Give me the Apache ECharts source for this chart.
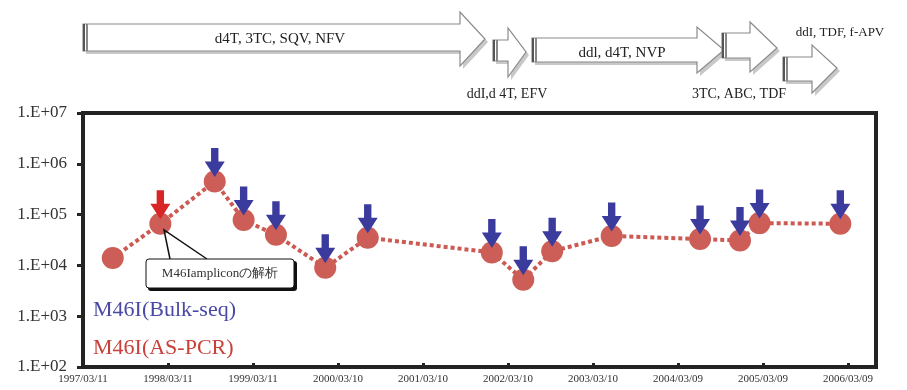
<!DOCTYPE html>
<html><head><meta charset="utf-8">
<script src="https://cdn.jsdelivr.net/npm/echarts@6/dist/echarts.min.js"></script>
<style>html,body{margin:0;padding:0;background:#fff}#c{width:907px;height:390px}</style>
</head><body><div id="c"></div>
<script>
// years elapsed since 1997/03/11
const sampleYears = [0.35, 0.91, 1.55, 1.89, 2.27, 2.85, 3.35, 4.81, 5.18, 5.52, 6.22, 7.26, 7.73, 7.96, 8.91];
// HIV RNA copies/ml (log scale)
const viralLoad = [14000, 66000, 450000, 78000, 40000, 9000, 35000, 18000, 5200, 19000, 38000, 33000, 31000, 68000, 66000];
// M46I detected by bulk sequencing (blue arrows)
const bulkSeq = [0, 0, 1, 1, 1, 1, 1, 1, 1, 1, 1, 1, 1, 1, 1];
// M46I detected by AS-PCR (red arrows)
const asPcr = [0, 1, 0, 0, 0, 0, 0, 0, 0, 0, 0, 0, 0, 0, 0];
const xTickLabels = ['1997/03/11','1998/03/11','1999/03/11','2000/03/10','2001/03/10','2002/03/10','2003/03/10','2004/03/09','2005/03/09','2006/03/09'];
const regimens = ['d4T, 3TC, SQV, NFV', 'ddI,d 4T, EFV', 'ddl, d4T, NVP', '3TC, ABC, TDF', 'ddI, TDF, f-APV'];
const legendLabels = ['M46I(Bulk-seq)', 'M46I(AS-PCR)'];
const calloutText = 'M46Iampliconの解析';

const serif = '"Liberation Serif","DejaVu Serif",serif';
const lineData = sampleYears.map((x, i) => [x, viralLoad[i]]);
const blueData = sampleYears.map((x, i) => [x, viralLoad[i]]).filter((d, i) => bulkSeq[i]);
const redData = sampleYears.map((x, i) => [x, viralLoad[i]]).filter((d, i) => asPcr[i]);
const arrowPath = 'path://M6,0 L13,0 L13,13 L19,13 L9.5,28 L0,13 L6,13 Z';

function blockArrow(x0, bt, bb, hx, ht, hb, tx, ty) {
  const pts = [[x0, bt], [hx, bt], [hx, ht], [tx, ty], [hx, hb], [hx, bb], [x0, bb]];
  return [
    { type: 'polygon', shape: { points: pts.map(p => [p[0] + 3, p[1] + 3]) }, style: { fill: '#c8c8c8', stroke: null }, z: 1 },
    { type: 'polygon', shape: { points: pts }, style: { fill: '#fff', stroke: '#8a8a8a', lineWidth: 1.2 }, z: 2 },
    { type: 'rect', shape: { x: x0, y: bt, width: 2, height: bb - bt }, style: { fill: '#555' }, z: 3 },
    { type: 'rect', shape: { x: x0 + 3, y: bt, width: 2, height: bb - bt }, style: { fill: '#888' }, z: 3 }
  ];
}
function txt(x, y, s, size, color, align) {
  return { type: 'text', x: x, y: y, z: 5, style: { text: s, font: size + 'px ' + serif, fill: color || '#222', textAlign: align || 'center', textVerticalAlign: 'middle' } };
}

const graphics = [].concat(
  blockArrow(83, 24, 51, 460, 12, 66, 485, 39),
  blockArrow(493, 40, 61, 508, 28, 77, 526, 52),
  blockArrow(532, 38, 62, 697, 27, 73, 724, 50),
  blockArrow(722, 33, 58, 750, 22, 72, 777, 48),
  blockArrow(783, 57, 81, 812, 45, 93, 837, 68),
  [
    txt(280, 39, regimens[0], 15),
    txt(507, 94, regimens[1], 14),
    txt(622, 53, regimens[2], 15),
    txt(739, 94, regimens[3], 14),
    txt(840, 33, regimens[4], 13),
    // callout
    { type: 'polyline', z: 6, shape: { points: [[170, 259], [164, 230], [207, 259]] }, style: { stroke: '#111', lineWidth: 1.5, fill: null } },
    { type: 'rect', z: 6, shape: { x: 148, y: 261, width: 149, height: 30, r: 3 }, style: { fill: '#111' } },
    { type: 'rect', z: 7, shape: { x: 146, y: 259, width: 148, height: 29, r: 3 }, style: { fill: '#fff', stroke: '#111', lineWidth: 1 } },
    { type: 'text', x: 220, y: 274, z: 8, style: { text: calloutText, font: '13px ' + serif, fill: '#333', textAlign: 'center', textVerticalAlign: 'middle' } },
    txt(93, 310, legendLabels[0], 22, '#4a4aa6', 'left'),
    txt(93, 348, legendLabels[1], 22, '#c8403a', 'left')
  ]
);

const chart = echarts.init(document.getElementById('c'));
chart.setOption({
  animation: false,
  backgroundColor: '#fff',
  grid: { left: 83, right: 31, top: 113, bottom: 23, show: true, borderColor: '#232323', borderWidth: 4 },
  xAxis: {
    type: 'value', min: 0, max: 9.33, interval: 1,
    axisLine: { lineStyle: { color: '#232323', width: 4 } },
    axisTick: { inside: true, length: 4, lineStyle: { color: '#232323', width: 3 } },
    axisLabel: { showMaxLabel: false, margin: 7, fontFamily: serif, fontSize: 11, color: '#333', formatter: v => xTickLabels[Math.round(v)] || '' },
    splitLine: { show: false }
  },
  yAxis: {
    type: 'log', logBase: 10, min: 100, max: 10000000,
    axisLine: { show: true, lineStyle: { color: '#232323', width: 4 } },
    axisTick: { show: true, length: 6, lineStyle: { color: '#232323', width: 3 } },
    axisLabel: { margin: 16, fontFamily: serif, fontSize: 17, color: '#333', formatter: v => '1.E+' + String(Math.round(Math.log10(v))).padStart(2, '0') },
    splitLine: { show: false }, minorTick: { show: false }
  },
  series: [
    { type: 'line', data: lineData, symbol: 'circle', symbolSize: 22,
      lineStyle: { color: '#cc5a52', width: 4, type: [4, 3] },
      itemStyle: { color: '#cc5e57' }, z: 3 },
    { type: 'scatter', data: blueData, symbol: arrowPath, symbolSize: [20, 29], symbolOffset: [0, -19],
      itemStyle: { color: '#3b3b9e', opacity: 1 }, z: 5 },
    { type: 'scatter', data: redData, symbol: arrowPath, symbolSize: [20, 29], symbolOffset: [0, -19],
      itemStyle: { color: '#d82626', opacity: 1 }, z: 5 }
  ],
  graphic: graphics
});
</script></body></html>
